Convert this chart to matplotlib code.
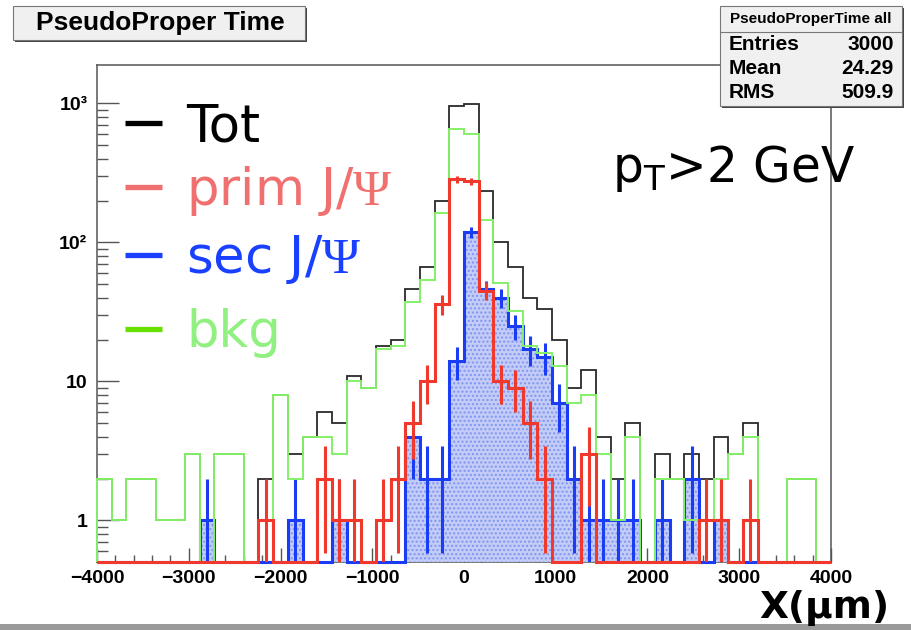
import numpy as np
import matplotlib
matplotlib.use("Agg")
import matplotlib.pyplot as plt
from matplotlib.patches import Rectangle
from matplotlib.ticker import FixedLocator, MultipleLocator, LogLocator, NullFormatter

plt.rcParams["mathtext.fontset"] = "custom"
plt.rcParams["mathtext.rm"] = "Liberation Serif"
plt.rcParams["mathtext.sf"] = "DejaVu Sans"

# 50 bins of 160 um between -4000 and 4000
edges = np.linspace(-4000, 4000, 51)

tot = [2, 1, 2, 2, 1, 1, 3, 1, 3, 3,
       0, 2, 8, 3, 4, 6, 5, 11, 9, 18,
       20, 46, 66, 200, 955, 995, 235, 100, 66, 40,
       33, 20, 9, 12, 4, 2, 5, 0, 3, 2,
       3, 2, 4, 3, 5, 0, 0, 2, 2, 0]
bkg = [2, 1, 2, 2, 1, 1, 3, 0, 3, 3,
       0, 1, 8, 2, 4, 4, 3, 10, 9, 17,
       18, 37, 54, 162, 655, 605, 144, 51, 32, 18,
       16, 13, 7, 8, 3, 1, 4, 0, 2, 2,
       1, 1, 2, 3, 4, 0, 0, 2, 2, 0]
prim = [0, 0, 0, 0, 0, 0, 0, 0, 0, 0,
        0, 1, 0, 0, 0, 2, 1, 1, 0, 1,
        2, 5, 10, 36, 285, 275, 45, 10, 9, 5,
        2, 0, 0, 3, 0, 0, 0, 0, 0, 0,
        0, 1, 1, 0, 1, 0, 0, 0, 0, 0]
sec = [0, 0, 0, 0, 0, 0, 0, 1, 0, 0,
       0, 0, 0, 1, 0, 0, 1, 0, 0, 0,
       0, 4, 2, 2, 14, 118, 46, 40, 25, 17,
       15, 7, 2, 1, 1, 1, 1, 0, 1, 0,
       2, 0, 1, 0, 0, 0, 0, 0, 0, 0]

legend_labels = ["Tot", r"prim J/$\mathrm{\Psi}$", r"sec J/$\mathrm{\Psi}$", "bkg"]
stats_rows = [("Entries", "3000"), ("Mean", "24.29"), ("RMS", "509.9")]

ymin, ymax = 0.503, 1886

fig = plt.figure(figsize=(9.12, 6.3), dpi=100)
ax = fig.add_axes([97 / 912, 1 - 562 / 630, 734 / 912, 497 / 630])
ax.set_yscale("log")
ax.set_xlim(-4000, 4000)
ax.set_ylim(ymin, ymax)

centers = 0.5 * (edges[:-1] + edges[1:])


def floored(v):
    v = np.asarray(v, dtype=float)
    return np.where(v > 0, v, ymin)


def errbars(v, color, lw, z):
    v = np.asarray(v, dtype=float)
    m = v > 0
    y = v[m]
    err = np.sqrt(y)
    lo = y - np.maximum(y - err, ymin)
    ax.errorbar(centers[m], y, yerr=[lo, err], fmt="none", ecolor=color,
                elinewidth=lw, capsize=0, zorder=z)


# black total
ax.stairs(floored(tot), edges, baseline=ymin, color="#2a2a2a", lw=1.3,
          zorder=2, clip_on=False)
# blue filled secondary
ax.stairs(floored(sec), edges, baseline=ymin, fill=True, facecolor="#c3ccf7",
          edgecolor="#7f95f0", hatch="....", lw=0, zorder=3)
ax.stairs(floored(sec), edges, baseline=ymin, color="#1a3cf5", lw=2.2,
          zorder=4, clip_on=False)
errbars(sec, "#1a3cf5", 2.2, 4)
# green background
ax.stairs(floored(bkg), edges, baseline=ymin, color="#84f068", lw=1.4,
          zorder=5, clip_on=False)
# red prompt
ax.stairs(floored(prim), edges, baseline=ymin, color="#f0382c", lw=2.2,
          zorder=6, clip_on=False)
errbars(prim, "#f0382c", 2.2, 6)

# axes styling, ROOT-like
for s in ax.spines.values():
    s.set_color("#555555")
    s.set_linewidth(1.1)
ax.xaxis.set_major_locator(MultipleLocator(1000))
ax.xaxis.set_minor_locator(MultipleLocator(200))
ax.yaxis.set_major_locator(FixedLocator([1, 10, 100, 1000]))
ax.yaxis.set_minor_locator(LogLocator(base=10, subs=np.arange(2, 10)))
ax.yaxis.set_minor_formatter(NullFormatter())
ax.set_yticklabels(["1", "10", "10²", "10³"])
ax.tick_params(which="both", direction="in", top=False, right=False,
               color="#555555", width=1.0)
ax.tick_params(axis="x", which="major", length=10, pad=6)
ax.tick_params(axis="x", which="minor", length=5)
ax.tick_params(axis="y", which="major", length=16, pad=7)
ax.tick_params(axis="y", which="minor", length=8)
for lab in ax.get_xticklabels() + ax.get_yticklabels():
    lab.set_fontfamily("Liberation Sans")
    lab.set_fontweight("bold")
    lab.set_fontsize(14)

# legend drawn by hand
leg_y = [123, 187, 255, 329]
leg_line = ["#000000", "#f07070", "#1a40ff", "#66e000"]
leg_text = ["#000000", "#f07070", "#1a40ff", "#90f080"]
for lab, yy, lc, tc in zip(legend_labels, leg_y, leg_line, leg_text):
    fy = 1 - yy / 630
    fig.add_artist(plt.Line2D([125 / 912, 162 / 912], [fy, fy], color=lc,
                              lw=3.8, solid_capstyle="butt"))
    fig.text(186 / 912, 1 - (yy + 18) / 630, lab, color=tc, fontsize=37,
             family="DejaVu Sans", va="baseline", ha="left")

fig.text(612 / 912, 1 - 182 / 630, r"p$_{\mathsf{T}}$>2 GeV", fontsize=35,
         family="DejaVu Sans", va="baseline", ha="left")

# x axis title
fig.text(889 / 912, 1 - 618 / 630, "X(μm)", fontsize=27, fontweight="bold",
         family="DejaVu Sans", ha="right", va="baseline")

# title box
fig.add_artist(Rectangle((15 / 912, 1 - 42 / 630), 292 / 912, 34 / 630,
                         transform=fig.transFigure, facecolor="#444444",
                         edgecolor="none"))
fig.add_artist(Rectangle((13 / 912, 1 - 40 / 630), 292 / 912, 34 / 630,
                         transform=fig.transFigure, facecolor="#f0f0f0",
                         edgecolor="#777777", lw=0.8))
fig.text(160 / 912, 1 - 23 / 630, "PseudoProper Time", fontsize=19,
         fontweight="bold", family="Liberation Sans", ha="center", va="center")

# stats box
fig.add_artist(Rectangle((722 / 912, 1 - 108 / 630), 182 / 912, 100 / 630,
                         transform=fig.transFigure, facecolor="#444444",
                         edgecolor="none"))
fig.add_artist(Rectangle((720 / 912, 1 - 106 / 630), 182 / 912, 100 / 630,
                         transform=fig.transFigure, facecolor="#f0f0f0",
                         edgecolor="#777777", lw=0.8))
fig.add_artist(plt.Line2D([720 / 912, 902 / 912], [1 - 32 / 630, 1 - 32 / 630],
                          color="#777777", lw=0.8))
fig.text(811 / 912, 1 - 19 / 630, "PseudoProperTime all", fontsize=11,
         fontweight="bold", family="Liberation Sans", ha="center", va="center")
for (name, val), yy in zip(stats_rows, [44, 69, 92]):
    fig.text(729 / 912, 1 - yy / 630, name, fontsize=15, fontweight="bold",
             family="Liberation Sans", ha="left", va="center")
    fig.text(894 / 912, 1 - yy / 630, val, fontsize=15, fontweight="bold",
             family="Liberation Sans", ha="right", va="center")

# grey strip at the bottom of the canvas
fig.add_artist(Rectangle((0, 0), 1, 6 / 630, transform=fig.transFigure,
                         facecolor="#9a9a9a", edgecolor="none"))

fig.savefig("out.png", dpi=100)
